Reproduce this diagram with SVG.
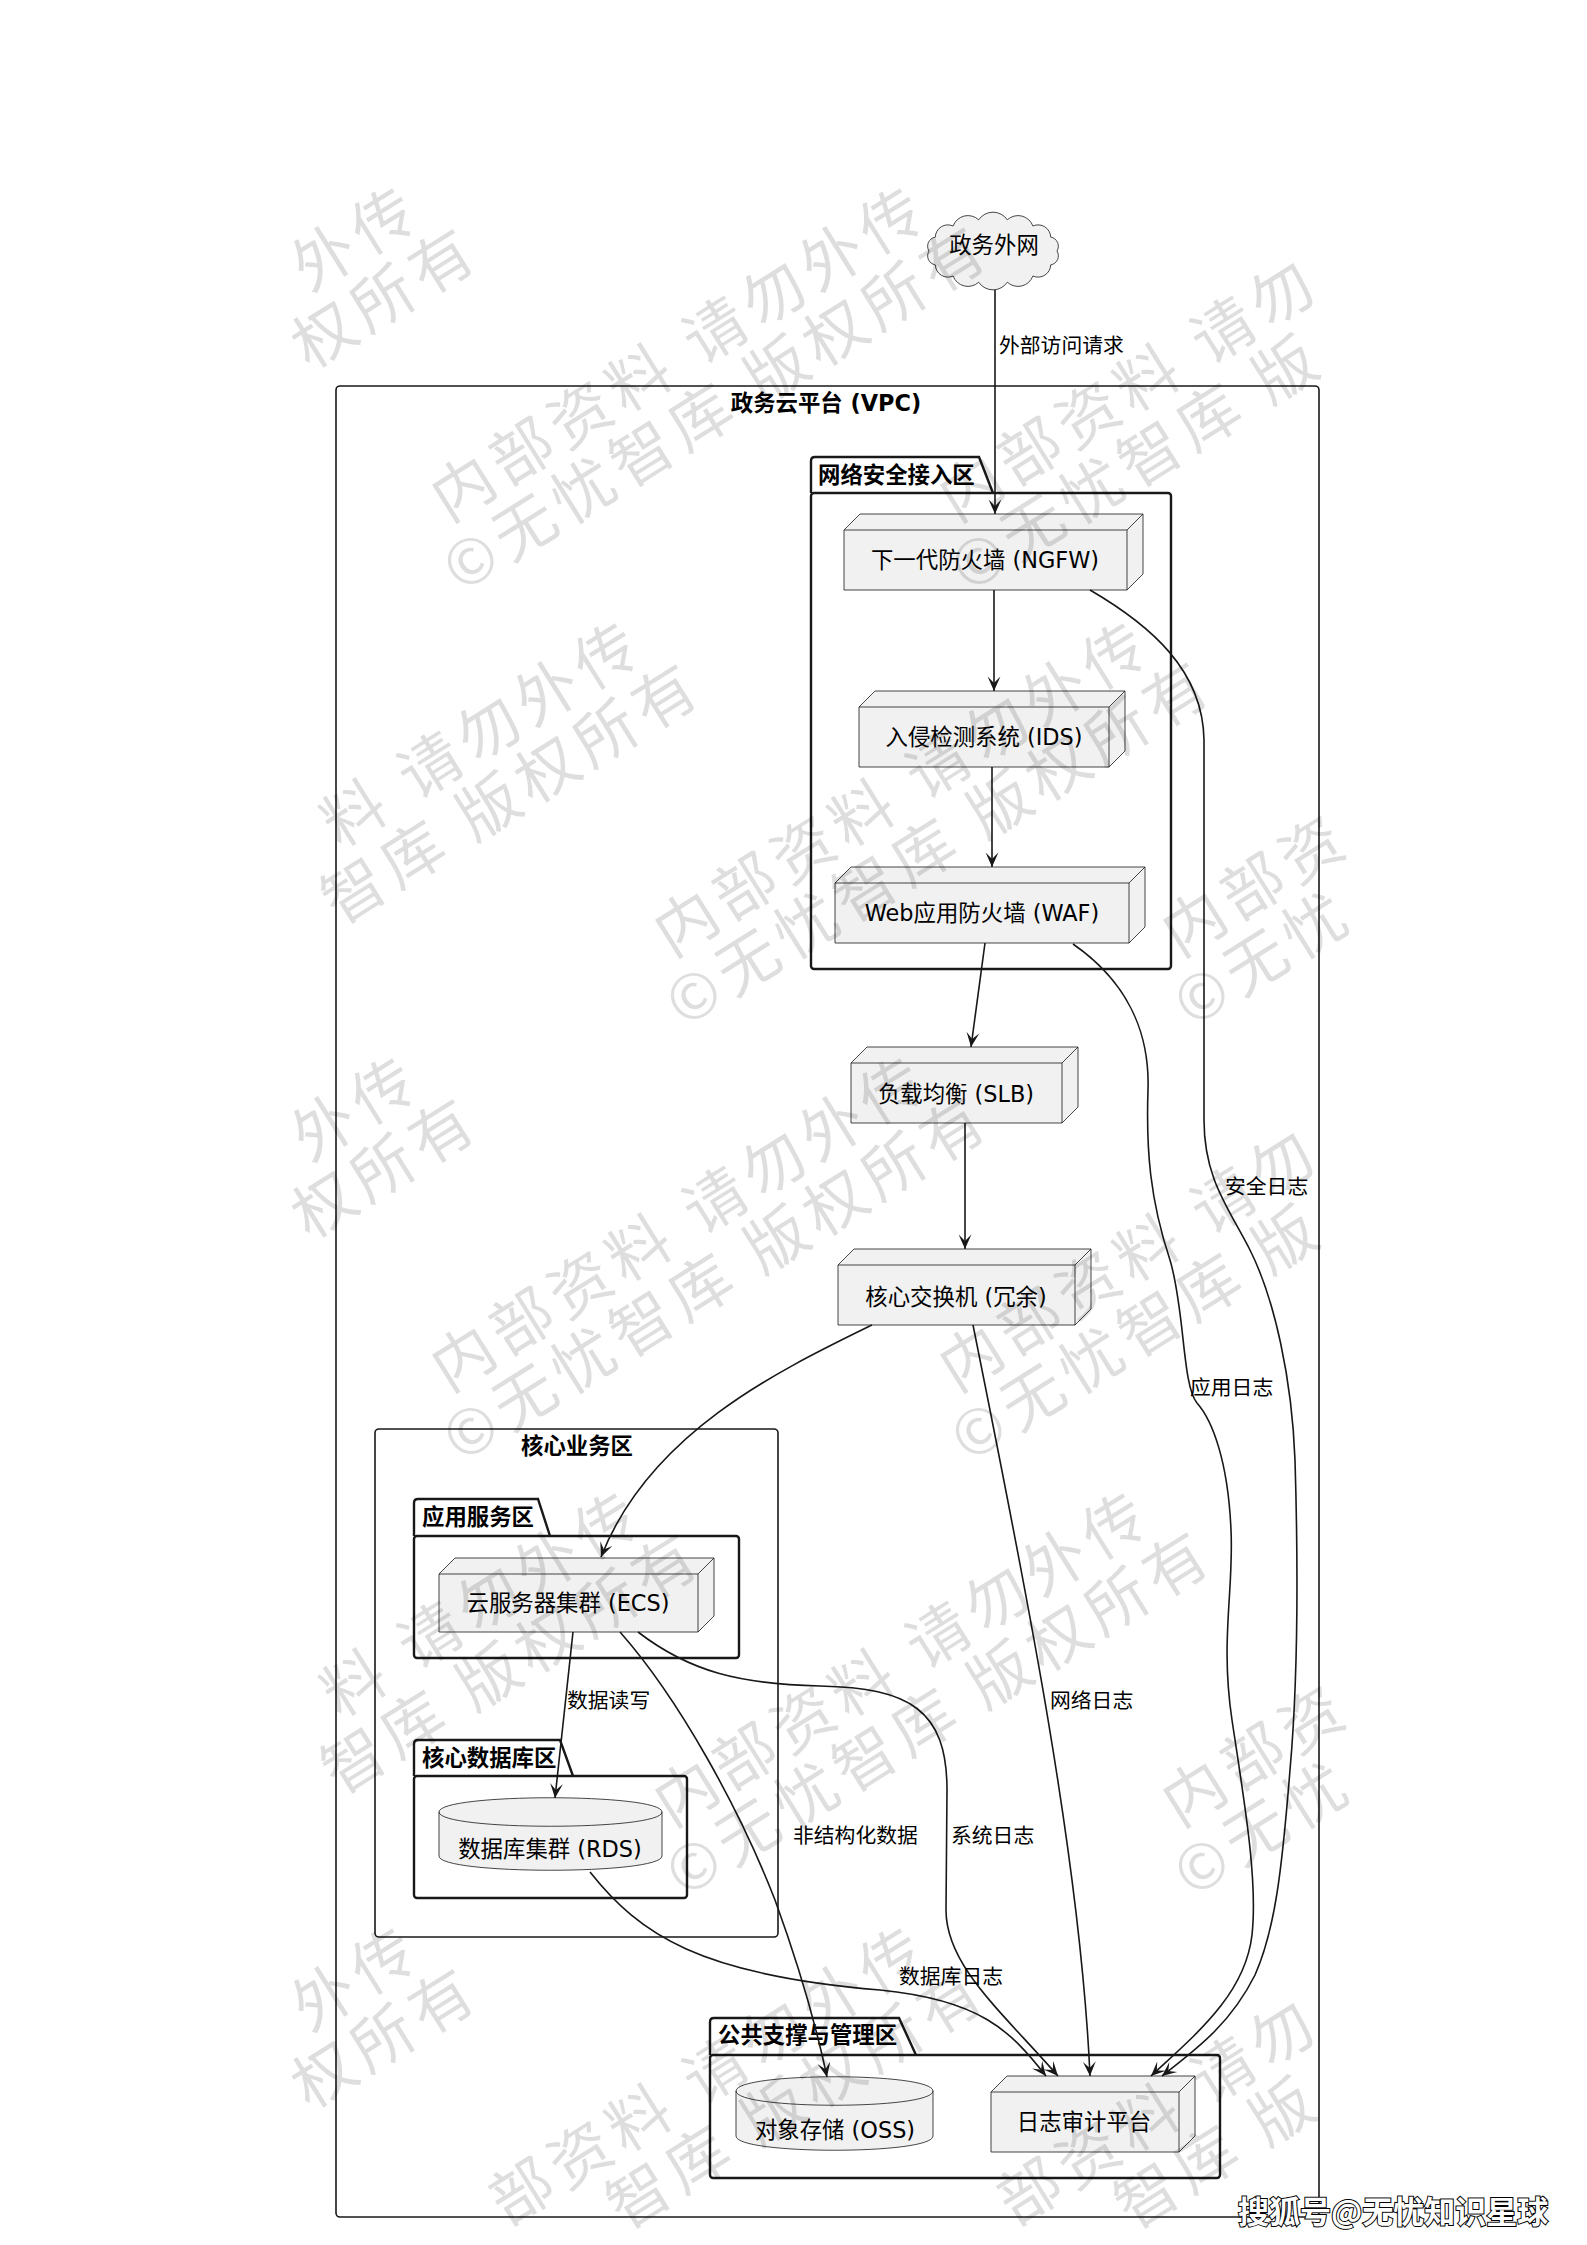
<svg xmlns="http://www.w3.org/2000/svg" width="1587" height="2245" viewBox="0 0 1587 2245">
<style>
.n{fill:#F1F1F1;stroke:#181818;stroke-width:0.8}
.nl{fill:none;stroke:#181818;stroke-width:0.8}
.e{fill:none;stroke:#181818;stroke-width:1.6;marker-end:url(#ah)}
.t{font-family:"DejaVu Sans","Noto Sans CJK SC",sans-serif;font-size:22.4px;fill:#000}
.c{text-anchor:middle}
.lbl{font-family:"DejaVu Sans","Noto Sans CJK SC",sans-serif;font-size:20.8px;fill:#000}
.b{font-weight:bold}
.pkg{fill:none;stroke:#181818;stroke-width:2.4}
.rc{fill:none;stroke:#181818;stroke-width:1.6}
.wm{font-family:"Noto Sans CJK SC",sans-serif;font-size:62px;fill:#000;fill-opacity:0.13;letter-spacing:7px}
</style>
<defs>
<marker id="ah" viewBox="-16 -8 18 16" refX="0" refY="0" markerWidth="18" markerHeight="16" orient="auto" markerUnits="userSpaceOnUse">
<path d="M0,0 L-14.4,-6.4 L-8,0 L-14.4,6.4 Z" fill="#181818"/>
</marker>
</defs>
<rect width="1587" height="2245" fill="#fff"/>

<!-- containers -->
<g id="vpc">
<rect class="rc" x="336" y="386" width="983" height="1831" rx="4"/>
<text class="t b c" x="826" y="411">政务云平台 (VPC)</text>
</g>
<g id="pkg-net">
<path class="pkg" d="M811,493 L811,461 Q811,457 815,457 L979,457 L993,493"/>
<rect class="pkg" x="811" y="493" width="360" height="476" rx="3"/>
<text class="t b" x="818" y="483">网络安全接入区</text>
</g>
<g id="core">
<rect class="rc" x="375" y="1429" width="403" height="508" rx="4"/>
<text class="t b c" x="577" y="1454">核心业务区</text>
</g>
<g id="pkg-app">
<path class="pkg" d="M414,1536 L414,1503 Q414,1499 418,1499 L538,1499 L550,1536"/>
<rect class="pkg" x="414" y="1536" width="325" height="122" rx="3"/>
<text class="t b" x="422" y="1525">应用服务区</text>
</g>
<g id="pkg-db">
<path class="pkg" d="M414,1776 L414,1744 Q414,1740 418,1740 L560,1740 L573,1776"/>
<rect class="pkg" x="414" y="1776" width="273" height="122" rx="3"/>
<text class="t b" x="422" y="1766">核心数据库区</text>
</g>
<g id="pkg-pub">
<path class="pkg" d="M710,2055 L710,2022 Q710,2018 714,2018 L899,2018 L916,2055"/>
<rect class="pkg" x="710" y="2055" width="510" height="123" rx="3"/>
<text class="t b" x="718" y="2043">公共支撑与管理区</text>
</g>

<!-- nodes -->
<g id="cloud">
<path class="n" d="M1057,251 A9.2,9.2 0 0 1 1050.7,264.9 A12.6,12.6 0 0 1 1032.9,276 A15.8,15.8 0 0 1 1007.3,282.2 A17.2,17.2 0 0 1 978.7,282.2 A15.8,15.8 0 0 1 953.1,276 A12.6,12.6 0 0 1 935.3,264.9 A9.2,9.2 0 0 1 929,251 A9.2,9.2 0 0 1 935.3,237.1 A12.6,12.6 0 0 1 953.1,226 A15.8,15.8 0 0 1 978.7,219.8 A17.2,17.2 0 0 1 1007.3,219.8 A15.8,15.8 0 0 1 1032.9,226 A12.6,12.6 0 0 1 1050.7,237.1 A9.2,9.2 0 0 1 1057,251 Z"/>
<text class="t c" x="994" y="253">政务外网</text>
</g>
<g id="ngfw">
<polygon class="n" points="844,530 860,514 1143,514 1143,574 1127,590 844,590"/>
<path class="nl" d="M1127,530 L1143,514 M844,530 L1127,530 L1127,590"/>
<text class="t c" x="985" y="568">下一代防火墙 (NGFW)</text>
</g>
<g id="ids">
<polygon class="n" points="859,707 875,691 1125,691 1125,751 1109,767 859,767"/>
<path class="nl" d="M1109,707 L1125,691 M859,707 L1109,707 L1109,767"/>
<text class="t c" x="984" y="745">入侵检测系统 (IDS)</text>
</g>
<g id="waf">
<polygon class="n" points="835,883 851,867 1145,867 1145,927 1129,943 835,943"/>
<path class="nl" d="M1129,883 L1145,867 M835,883 L1129,883 L1129,943"/>
<text class="t c" x="982" y="921">Web应用防火墙 (WAF)</text>
</g>
<g id="slb">
<polygon class="n" points="851,1063 867,1047 1078,1047 1078,1107 1062,1123 851,1123"/>
<path class="nl" d="M1062,1063 L1078,1047 M851,1063 L1062,1063 L1062,1123"/>
<text class="t c" x="956" y="1102">负载均衡 (SLB)</text>
</g>
<g id="switch">
<polygon class="n" points="838,1265 854,1249 1091,1249 1091,1309 1075,1325 838,1325"/>
<path class="nl" d="M1075,1265 L1091,1249 M838,1265 L1075,1265 L1075,1325"/>
<text class="t c" x="956" y="1305">核心交换机 (冗余)</text>
</g>
<g id="ecs">
<polygon class="n" points="439,1574 455,1558 714,1558 714,1616 698,1632 439,1632"/>
<path class="nl" d="M698,1574 L714,1558 M439,1574 L698,1574 L698,1632"/>
<text class="t c" x="568" y="1611">云服务器集群 (ECS)</text>
</g>
<g id="rds">
<path class="n" d="M439,1812 C439,1793 662,1793 662,1812 L662,1856 C662,1875 439,1875 439,1856 Z"/>
<path class="nl" d="M439,1812 C439,1831 662,1831 662,1812"/>
<text class="t c" x="550" y="1857">数据库集群 (RDS)</text>
</g>
<g id="oss">
<path class="n" d="M736,2091 C736,2072 933,2072 933,2091 L933,2136 C933,2155 736,2155 736,2136 Z"/>
<path class="nl" d="M736,2091 C736,2110 933,2110 933,2091"/>
<text class="t c" x="835" y="2138">对象存储 (OSS)</text>
</g>
<g id="logplat">
<polygon class="n" points="991,2092 1007,2076 1195,2076 1195,2136 1179,2152 991,2152"/>
<path class="nl" d="M1179,2092 L1195,2076 M991,2092 L1179,2092 L1179,2152"/>
<text class="t c" x="1084" y="2130">日志审计平台</text>
</g>

<!-- connectors -->
<g id="connectors">
<path class="e" d="M995,290 L995,514"/>
<path class="e" d="M994,590 L994,691"/>
<path class="e" d="M992,767 L992,867"/>
<path class="e" d="M985,943 L971,1047"/>
<path class="e" d="M965,1123 L965,1249"/>
<path class="e" d="M872,1325 C780,1370 650,1432 601,1557"/>
<path class="e" d="M573,1632 L555,1798"/>
<path class="e" d="M620,1632 C680,1700 740,1810 775,1900 C795,1955 815,2020 827,2077"/>
<path class="e" d="M638,1632 C690,1672 740,1684 820,1686 C910,1688 947,1710 947,1790 L946,1910 C946,1965 1000,2010 1058,2076"/>
<path class="e" d="M590,1872 C640,1935 700,1975 880,1990 C980,2000 1010,2030 1046,2076"/>
<path class="e" d="M973,1325 C1020,1560 1080,1850 1090,2076"/>
<path class="e" d="M1073,944 C1125,980 1150,1030 1148,1090 C1146,1150 1150,1200 1170,1260 C1185,1310 1182,1385 1197,1403 C1212,1420 1228,1460 1231,1530 C1234,1590 1220,1640 1232,1720 C1244,1800 1258,1880 1252,1935 C1245,1995 1195,2035 1151,2076"/>
<path class="e" d="M1090,590 C1150,625 1203,670 1204,740 L1204,1120 C1204,1180 1230,1210 1250,1250 C1275,1300 1292,1380 1295,1460 C1298,1560 1298,1680 1290,1770 C1282,1870 1275,1930 1255,1975 C1230,2025 1195,2050 1162,2076"/>
<text class="lbl" x="999" y="353">外部访问请求</text>
<text class="lbl" x="1225" y="1194">安全日志</text>
<text class="lbl" x="1190" y="1395">应用日志</text>
<text class="lbl" x="1050" y="1708">网络日志</text>
<text class="lbl" x="567" y="1708">数据读写</text>
<text class="lbl" x="793" y="1843">非结构化数据</text>
<text class="lbl" x="951" y="1843">系统日志</text>
<text class="lbl" x="899" y="1984">数据库日志</text>
</g>

<!-- watermark -->
<g id="watermark">
<g transform="translate(168,353) rotate(-32)"><text class="wm" x="152" y="24">外传</text><text class="wm" x="111" y="90">权所有</text></g>
<g transform="translate(676,353) rotate(-32)"><text class="wm" x="-283" y="24">内部资料 请勿外传</text><text class="wm" x="-310" y="90">©无忧智库 版权所有</text></g>
<g transform="translate(1184,353) rotate(-32)"><text class="wm" x="-283" y="24">内部资料 请勿</text><text class="wm" x="-310" y="90">©无忧智库 版</text></g>
<g transform="translate(391,788) rotate(-32)"><text class="wm" x="-76" y="24">料 请勿外传</text><text class="wm" x="-117" y="90">智库 版权所有</text></g>
<g transform="translate(899,788) rotate(-32)"><text class="wm" x="-283" y="24">内部资料 请勿外传</text><text class="wm" x="-310" y="90">©无忧智库 版权所有</text></g>
<g transform="translate(1407,788) rotate(-32)"><text class="wm" x="-283" y="24">内部资</text><text class="wm" x="-310" y="90">©无忧</text></g>
<g transform="translate(168,1223) rotate(-32)"><text class="wm" x="152" y="24">外传</text><text class="wm" x="111" y="90">权所有</text></g>
<g transform="translate(676,1223) rotate(-32)"><text class="wm" x="-283" y="24">内部资料 请勿外传</text><text class="wm" x="-310" y="90">©无忧智库 版权所有</text></g>
<g transform="translate(1184,1223) rotate(-32)"><text class="wm" x="-283" y="24">内部资料 请勿</text><text class="wm" x="-310" y="90">©无忧智库 版</text></g>
<g transform="translate(391,1658) rotate(-32)"><text class="wm" x="-76" y="24">料 请勿外传</text><text class="wm" x="-117" y="90">智库 版权所有</text></g>
<g transform="translate(899,1658) rotate(-32)"><text class="wm" x="-283" y="24">内部资料 请勿外传</text><text class="wm" x="-310" y="90">©无忧智库 版权所有</text></g>
<g transform="translate(1407,1658) rotate(-32)"><text class="wm" x="-283" y="24">内部资</text><text class="wm" x="-310" y="90">©无忧</text></g>
<g transform="translate(168,2093) rotate(-32)"><text class="wm" x="152" y="24">外传</text><text class="wm" x="111" y="90">权所有</text></g>
<g transform="translate(676,2093) rotate(-32)"><text class="wm" x="-214" y="24">部资料 请勿外传</text><text class="wm" x="-117" y="90">智库 版权所有</text></g>
<g transform="translate(1184,2093) rotate(-32)"><text class="wm" x="-214" y="24">部资料 请勿</text><text class="wm" x="-117" y="90">智库 版</text></g>
</g>
<text x="1238" y="2223" font-family="Noto Sans CJK SC,sans-serif" font-size="31" font-weight="bold" fill="#fff" stroke="#000" stroke-width="2" paint-order="stroke">搜狐号@无忧知识星球</text>
</svg>
